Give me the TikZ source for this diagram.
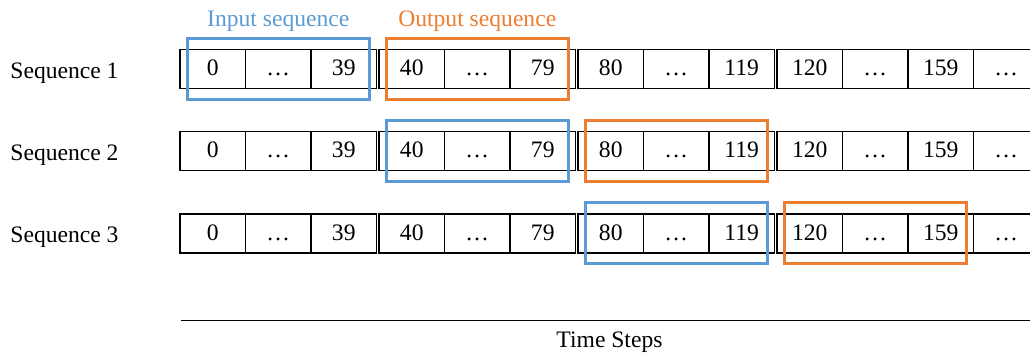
\documentclass[tikz,border=0pt]{standalone}
\usepackage{fontspec}
\setmainfont{Liberation Serif}
\usetikzlibrary{calc,positioning}
\definecolor{inblue}{HTML}{5B9BD5}
\definecolor{outorange}{HTML}{ED7D31}

\begin{document}
\begin{tikzpicture}[x=0.5pt,y=0.5pt,
  font=\fontsize{11.8}{14}\selectfont,
  cell/.style={draw,line width=0.6pt,minimum width=32.75pt,minimum height=19.5pt,
    text height=8pt,text depth=1pt,inner sep=0pt,outer sep=0pt,anchor=west},
  tail/.style={cell,draw=none},
  inbox/.style={draw=inblue,line width=1.5pt},
  outbox/.style={draw=outorange,line width=1.5pt}]
 \useasboundingbox (0,0) rectangle (1030,-356);
 \coordinate (edge) at (1030,0);
 % one row of cells per sequence
 \foreach \r/\y in {1/-69,2/-151,3/-233.5} {
   \node[anchor=base west,inner sep=0pt] (s\r) at (10,\y-9.3) {Sequence \r};
   \foreach \g in {0,...,3} {
     \pgfmathtruncatemacro{\lo}{40*\g}
     \pgfmathtruncatemacro{\hi}{40*\g+39}
     \node[cell] (c\r-\g-1) at (180+199*\g,\y) {\lo};
     \node[cell,right=0pt of c\r-\g-1] (c\r-\g-2) {\dots};
     \node[cell,right=0pt of c\r-\g-2] (c\r-\g-3) {\hi};
   }
   \node[tail,right=0pt of c\r-3-3] (c\r-4) {\dots};
   \draw[line width=0.6pt] (c\r-4.north west -| edge) -- (c\r-4.north west)
     -- (c\r-4.south west) -- (c\r-4.south west -| edge);
 }
 % input / output windows
 \foreach \r in {1,2,3} {
   \pgfmathtruncatemacro{\gi}{\r-1}
   \draw[inbox] ($(c\r-\gi-1.west)+(7,30.5)$) rectangle ($(c\r-\gi-3.east)+(-7,-30.5)$);
   \draw[outbox] ($(c\r-\r-1.west)+(7,30.5)$) rectangle ($(c\r-\r-3.east)+(-7,-30.5)$);
 }
 \node[anchor=base,text=inblue] (lin) at ($(c1-0-2.north)+(0,23)$) {Input sequence};
 \node[anchor=base,text=outorange] (lout) at ($(c1-1-2.north)+(0,23)$) {Output sequence};
 % time axis
 \coordinate (t0) at (181,-320.7);
 \coordinate (t1) at (1030,-320.7);
 \draw[line width=0.7pt] (t0) -- (t1);
 \node[anchor=base] (ts) at ($(t0)!0.5!(t1)+(4,-27.3)$) {Time Steps};
\end{tikzpicture}
\end{document}
